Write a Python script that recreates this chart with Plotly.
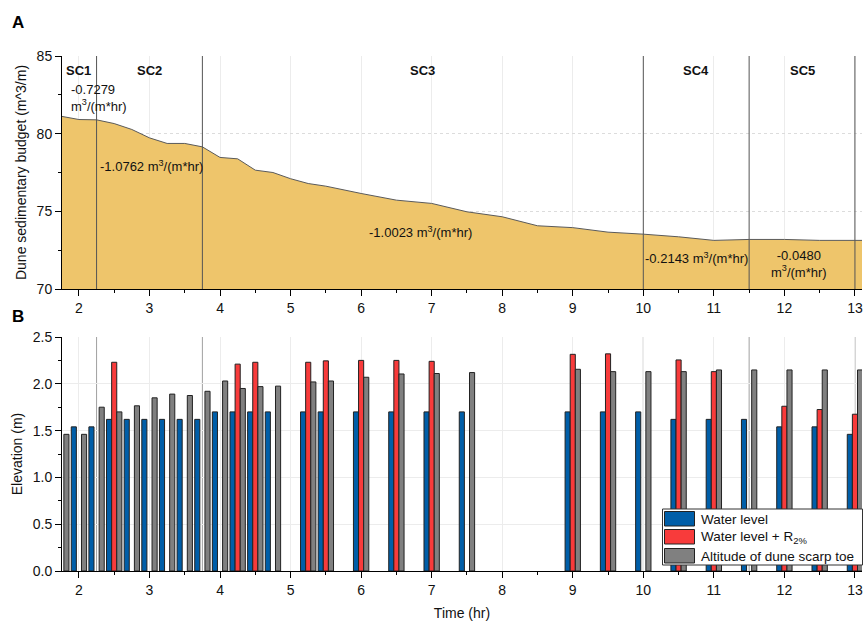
import plotly.graph_objects as go

# ---- Dune sedimentary budget (panel A) ----
budget_time = [1.75, 2.0, 2.25, 2.5, 2.75, 3.0, 3.25, 3.5, 3.75, 4.0, 4.25, 4.5, 4.75,
               5.0, 5.25, 5.5, 6.0, 6.5, 7.0, 7.5, 8.0, 8.5, 9.0, 9.5, 10.0, 10.5,
               11.0, 11.5, 12.0, 12.5, 13.0, 13.25]
budget = [81.12, 80.91, 80.89, 80.65, 80.27, 79.73, 79.37, 79.37, 79.15, 78.47, 78.38, 77.65, 77.50,
          77.10, 76.79, 76.62, 76.15, 75.72, 75.51, 74.97, 74.65, 74.07, 73.95, 73.66, 73.53, 73.36,
          73.13, 73.19, 73.19, 73.13, 73.13, 73.13]

# Storm-cycle boundaries (hr) and labels
sc_bounds = [1.75, 2.25, 3.75, 10.0, 11.5, 13.0]
sc_names = ["SC1", "SC2", "SC3", "SC4", "SC5"]
sc_rates = ["-0.7279<br>m<sup>3</sup>/(m*hr)", "-1.0762 m<sup>3</sup>/(m*hr)",
            "-1.0023 m<sup>3</sup>/(m*hr)", "-0.2143 m<sup>3</sup>/(m*hr)",
            "-0.0480<br>m<sup>3</sup>/(m*hr)"]
rate_x = [1.86, 3.03, 6.84, 10.76, 12.2]
rate_y = [82.3, 77.9, 73.68, 71.97, 71.6]

# ---- Elevations (panel B) ----
bar_time = [1.75, 2.0, 2.25, 2.5, 2.75, 3.0, 3.25, 3.5, 3.75, 4.0, 4.25, 4.5, 4.75,
            5.25, 5.5, 6.0, 6.5, 7.0, 7.5, 9.0, 9.5, 10.0, 10.5, 11.0, 11.5, 12.0, 12.5, 13.0]
water_level = [None, 1.54, 1.54, 1.62, 1.62, 1.62, 1.62, 1.62, 1.62, 1.70, 1.70, 1.70, 1.70,
               1.70, 1.70, 1.70, 1.70, 1.70, 1.70, 1.70, 1.70, 1.70, 1.62, 1.62, 1.62, 1.54, 1.54, 1.46]
water_r2 = [None, None, None, 2.23, None, None, None, None, None, None, 2.21, 2.23, None,
            2.23, 2.245, 2.25, 2.25, 2.24, None, 2.315, 2.32, None, 2.255, 2.13, None, 1.76, 1.725, 1.675]
scarp_toe = [1.46, 1.46, 1.75, 1.70, 1.765, 1.85, 1.89, 1.875, 1.92, 2.03, 1.95, 1.97, 1.975,
             2.02, 2.03, 2.07, 2.105, 2.11, 2.12, 2.155, 2.13, 2.13, 2.13, 2.148, 2.148, 2.148, 2.148, 2.148]

series_names = ["Water level", "Water level + R<sub>2%</sub>", "Altitude of dune scarp toe"]

FONT = "Liberation Sans, Arial, sans-serif"
SAND = "#EEC56B"
BLUE = "#005EA8"
RED = "#F83B3B"
GREY = "#808080"
series_colors = [BLUE, RED, GREY]

W, H = 863, 621
ML, MR = 62, 1
PLOT_W = W - ML - MR


def px_x(px):
    """Horizontal pixel -> paper x."""
    return (px - ML) / PLOT_W


def px_y(px):
    """Vertical pixel (from top) -> paper y."""
    return 1 - px / H


fig = go.Figure()

fig.add_trace(go.Scatter(
    x=budget_time, y=budget, mode="lines", fill="tozeroy", fillcolor=SAND,
    line=dict(color="#5a5a5a", width=1), showlegend=False, xaxis="x", yaxis="y"))

for name, vals, col in zip(series_names, [water_level, water_r2, scarp_toe], series_colors):
    fig.add_trace(go.Bar(
        x=bar_time, y=vals, name=name, showlegend=False,
        marker=dict(color=col, line=dict(color="#222", width=1)),
        xaxis="x2", yaxis="y2"))

xcommon = dict(range=[1.76, 13.1], dtick=1, tick0=0, ticks="outside", ticklen=6, tickcolor="black",
               showline=True, linecolor="black", linewidth=1, showgrid=True, gridcolor="#ececec",
               zeroline=False, tickfont=dict(size=14, color="#111"),
               minor=dict(dtick=0.5, tick0=0, ticks="outside", ticklen=3, tickcolor="black", showgrid=False))

fig.update_layout(
    width=W, height=H, margin=dict(l=ML, r=MR, t=0, b=0),
    paper_bgcolor="white", plot_bgcolor="white",
    font=dict(family=FONT, size=14, color="#111"),
    barmode="group", bargap=0.13, bargroupgap=0,
    showlegend=False,
    xaxis=dict(**xcommon, domain=[0, 1], anchor="y"),
    yaxis=dict(domain=[px_y(289), px_y(56)], range=[70, 85], dtick=5, ticks="outside", ticklen=6,
               tickcolor="black", showline=True, linecolor="black", linewidth=1,
               showgrid=True, gridcolor="#dcdcdc", griddash="dot", zeroline=False,
               tickfont=dict(size=14), anchor="x",
               minor=dict(dtick=2.5, ticks="outside", ticklen=3, tickcolor="black", showgrid=False),
               title=dict(text="Dune sedimentary budget (m^3/m)", font=dict(size=14), standoff=6),
               automargin=False),
    xaxis2=dict(**xcommon, domain=[0, 1], anchor="y2",
                title=dict(text="Time (hr)", font=dict(size=14), standoff=11), automargin=False),
    yaxis2=dict(domain=[px_y(571), px_y(337)], range=[0, 2.5], dtick=0.5, tickformat=".1f",
                ticks="outside", ticklen=6, tickcolor="black", showline=True, linecolor="black",
                linewidth=1, showgrid=True, gridcolor="#ececec", zeroline=False,
                tickfont=dict(size=14), anchor="x2",
                minor=dict(dtick=0.25, ticks="outside", ticklen=3, tickcolor="black", showgrid=False),
                title=dict(text="Elevation (m)", font=dict(size=14), standoff=6), automargin=False),
)

# Storm-cycle separators
for b in sc_bounds[1:]:
    fig.add_shape(type="line", xref="x", yref="y domain", x0=b, x1=b, y0=0, y1=1,
                  line=dict(color="#555", width=1), layer="above")
    fig.add_shape(type="line", xref="x2", yref="y2 domain", x0=b, x1=b, y0=0, y1=1,
                  line=dict(color="#a0a0a0", width=1), layer="below")

# Storm-cycle names centred in each segment
for i, name in enumerate(sc_names):
    fig.add_annotation(x=(sc_bounds[i] + sc_bounds[i + 1]) / 2, y=84.08, xref="x", yref="y",
                       text=f"<b>{name}</b>", showarrow=False, font=dict(size=13, color="#111"))

# Erosion rates
for i, (txt, rx, ry) in enumerate(zip(sc_rates, rate_x, rate_y)):
    fig.add_annotation(x=rx, y=ry, xref="x", yref="y", text=txt, showarrow=False,
                       xanchor="left" if i == 0 else "center", align="left" if i == 0 else "center",
                       font=dict(size=13, color="#111"))

# Panel letters
for letter, ypx in [("A", 23), ("B", 316)]:
    fig.add_annotation(x=px_x(18), y=px_y(ypx), xref="paper", yref="paper", text=f"<b>{letter}</b>",
                       xanchor="center", yanchor="middle", showarrow=False,
                       font=dict(size=17, color="black"))

# Legend box with wide swatches
fig.add_shape(type="rect", xref="paper", yref="paper",
              x0=px_x(662.5), x1=px_x(862.5), y0=px_y(565), y1=px_y(509),
              fillcolor="white", line=dict(color="#333", width=1), layer="above")
row_top = [511.5, 529.5, 548.5]
for name, col, top in zip(series_names, series_colors, row_top):
    fig.add_shape(type="rect", xref="paper", yref="paper",
                  x0=px_x(664.5), x1=px_x(694.5), y0=px_y(top + 14.5), y1=px_y(top),
                  fillcolor=col, line=dict(color="#222", width=1), layer="above")
    fig.add_annotation(x=px_x(699), y=px_y(top + 7.5), xref="paper", yref="paper", text=name,
                       xanchor="left", yanchor="middle", showarrow=False,
                       font=dict(size=13.5, color="#111"))

fig.write_html("out.html")
